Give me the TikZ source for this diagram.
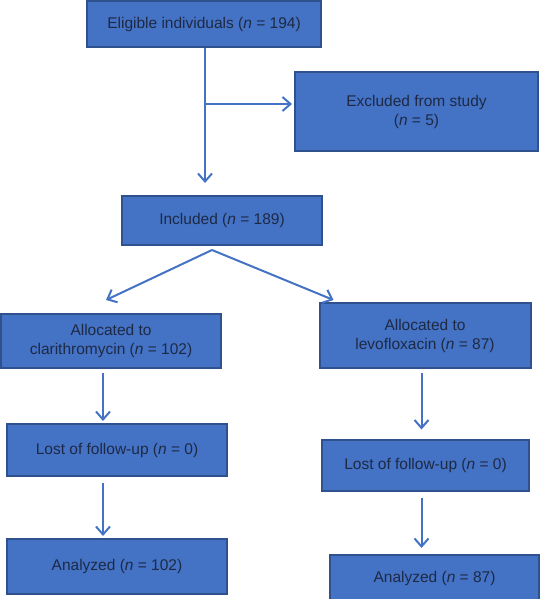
\documentclass[tikz,border=0pt]{standalone}
\usepackage{fontspec}
\setmainfont{Liberation Sans}
\usetikzlibrary{arrows.meta,positioning,calc}
\definecolor{boxblue}{HTML}{4472C4}
\definecolor{boxedge}{HTML}{2F528F}
\definecolor{textnavy}{HTML}{1E2A45}

\tikzset{
    flowbox/.style={draw=boxedge, fill=boxblue, line width=2pt, text=textnavy,
        font=\fontsize{15.5}{19}\selectfont, align=center, inner sep=0pt},
    flowarrow/.style={-{Straight Barb[length=8pt,width=14pt]}, boxblue, line width=2pt}
}

\begin{document}
\begin{tikzpicture}[x=1pt, y=-1pt]
    \clip (0,0) rectangle (542,599);

    % Screening
    \node[flowbox, minimum width=234pt, minimum height=46pt] (elig) at (204,24) {Eligible individuals (\textit{n} = 194)};
    \node[flowbox, minimum width=243pt, minimum height=79pt] (excl) at (416.5,111.5) {Excluded from study\\(\textit{n} = 5)};
    \node[flowbox, minimum width=200pt, minimum height=49pt] (incl) at (222,220.5) {Included (\textit{n} = 189)};

    % Clarithromycin arm
    \node[flowbox, minimum width=220pt, minimum height=54pt] (allocC) at (111,341) {Allocated to\\clarithromycin (\textit{n} = 102)};
    \node[flowbox, minimum width=220pt, minimum height=52pt] (lostC) at (117,450) {Lost of follow-up (\textit{n} = 0)};
    \node[flowbox, minimum width=220pt, minimum height=55pt] (anaC) at (117,566.5) {Analyzed (\textit{n} = 102)};

    % Levofloxacin arm
    \node[flowbox, minimum width=211pt, minimum height=65pt] (allocL) at (425,335.5) {Allocated to\\levofloxacin (\textit{n} = 87)};
    \node[flowbox, minimum width=207pt, minimum height=51pt] (lostL) at (425.5,465) {Lost of follow-up (\textit{n} = 0)};
    \node[flowbox, minimum width=209pt, minimum height=46pt] (anaL) at (434.5,578) {Analyzed (\textit{n} = 87)};

    % Connectors
    \coordinate (split) at ($(elig.south)+(1,56)$);
    \draw[flowarrow] ([xshift=1pt]elig.south) -- ([xshift=1pt]elig.south |- incl.north) [shorten >=12pt];
    \draw[flowarrow] (split) -- (split -| excl.west) [shorten >=2pt];

    \coordinate (fork) at ($(incl.south)+(-10,4)$);
    \draw[flowarrow] (fork) -- ($(allocC.north)+(-5,-13)$);
    \draw[flowarrow] (fork) -- ($(allocL.north west)+(15,-2)$);

    \coordinate (colC) at (103,0);
    \coordinate (colL) at (421.5,0);
    \draw[flowarrow] ([yshift=-4pt]allocC.south -| colC) -- ([yshift=2pt]lostC.north -| colC);
    \draw[flowarrow] ([yshift=-6pt]lostC.south -| colC) -- ([yshift=2pt]anaC.north -| colC);
    \draw[flowarrow] ([yshift=-4pt]allocL.south -| colL) -- ([yshift=9pt]lostL.north -| colL);
    \draw[flowarrow] ([yshift=-6pt]lostL.south -| colL) -- ([yshift=6pt]anaL.north -| colL);
\end{tikzpicture}
\end{document}
